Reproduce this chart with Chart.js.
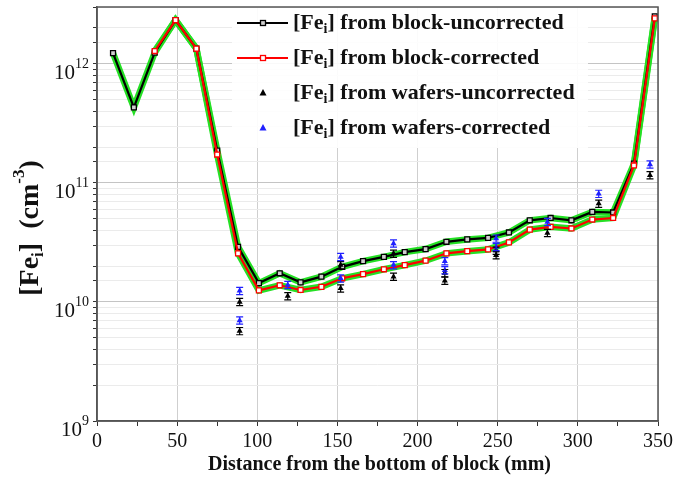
<!DOCTYPE html>
<html>
<head>
<meta charset="utf-8">
<script src="https://cdn.jsdelivr.net/npm/chart.js@4.4.0/dist/chart.umd.min.js"></script>
<style>
html, body { margin: 0; padding: 0; background: #fff; }
</style>
</head>
<body>
<canvas id="feChart" width="684" height="477"></canvas>
<script>
// positions along the block (mm)
const blockX = [10, 23, 36, 49, 62, 75, 88, 101, 114, 127, 140, 153, 166, 179, 192, 205, 218, 231, 244, 257, 270, 283, 296, 309, 322, 335, 348];
const blockUncorr = [1.23e12, 4.3e11, 1.24e12, 2.33e12, 1.34e12, 1.87e11, 2.9e10, 1.44e10, 1.74e10, 1.46e10, 1.63e10, 1.97e10, 2.2e10, 2.39e10, 2.62e10, 2.78e10, 3.2e10, 3.35e10, 3.45e10, 3.83e10, 4.85e10, 5.07e10, 4.85e10, 5.7e10, 5.64e10, 1.45e11, 2.5e12];
const blockCorr = [null, null, 1.28e12, 2.33e12, 1.34e12, 1.73e11, 2.56e10, 1.25e10, 1.38e10, 1.26e10, 1.34e10, 1.58e10, 1.71e10, 1.88e10, 2.04e10, 2.22e10, 2.56e10, 2.67e10, 2.76e10, 3.16e10, 4.05e10, 4.27e10, 4.14e10, 4.92e10, 5.07e10, 1.4e11, 2.41e12];

// wafer measurements
const waferX = [89, 89, 119, 152, 152, 185, 185, 217, 217, 249, 249, 281, 313, 345];
const waferUncorr = [1.0e10, 5.7e9, 1.12e10, 2.04e10, 1.30e10, 2.55e10, 1.63e10, 1.75e10, 1.51e10, 2.7e10, 2.47e10, 3.8e10, 6.7e10, 1.16e11];
const waferCorr = [1.24e10, 7.0e9, 1.39e10, 2.39e10, 1.58e10, 3.1e10, 2.04e10, 2.2e10, 1.85e10, 3.41e10, 2.9e10, 4.7e10, 8.1e10, 1.43e11];
const waferErrU = [0.07, 0.07, 0.07, 0.07, 0.07, 0.07, 0.07, 0.07, 0.07, 0.07, 0.07, 0.07, 0.07, 0.07];
const waferErrC = [0.07, 0.07, 0.07, 0.07, 0.07, 0.07, 0.07, 0.07, 0.07, 0.07, 0.07, 0.07, 0.07, 0.07];

const xTicks = [0, 50, 100, 150, 200, 250, 300, 350];
const yDecades = [9, 10, 11, 12];
const legendLabels = [
    [['[Fe'], ['i', 'sub'], ['] from block-uncorrected']],
    [['[Fe'], ['i', 'sub'], ['] from block-corrected']],
    [['[Fe'], ['i', 'sub'], ['] from wafers-uncorrected']],
    [['[Fe'], ['i', 'sub'], ['] from wafers-corrected']]
];

const SERIF = '"Liberation Serif", "Times New Roman", serif';
const GREEN = '#25e025';
const BLUE = '#2020ff';

function toPoints(xs, ys) {
    const pts = [];
    xs.forEach((x, i) => {
        if (ys[i] !== null) pts.push({ x: x, y: ys[i] });
    });
    return pts;
}

// draws text with sub/superscript pieces, returns width
function richText(ctx, parts, x, y, size, bold, measureOnly) {
    let cx = x;
    parts.forEach(p => {
        const kind = p[1];
        const fs = kind ? Math.round(size * 0.62) : size;
        ctx.font = (bold ? 'bold ' : '') + fs + 'px ' + SERIF;
        let dy = 0;
        if (kind === 'sub') dy = size * 0.28;
        if (kind === 'sup') dy = -size * 0.4;
        if (!measureOnly) ctx.fillText(p[0], cx, y + dy);
        cx += ctx.measureText(p[0]).width;
    });
    return cx - x;
}

const errorBars = {
    id: 'errorBars',
    afterDatasetsDraw(chart) {
        const ctx = chart.ctx;
        const ys = chart.scales.y;
        chart.data.datasets.forEach((ds, di) => {
            if (!ds.errs) return;
            const meta = chart.getDatasetMeta(di);
            ctx.save();
            ctx.strokeStyle = ds.borderColor;
            ctx.lineWidth = 1.2;
            meta.data.forEach((el, i) => {
                const v = ds.data[i].y;
                const top = ys.getPixelForValue(v * (1 + ds.errs[i]));
                const bot = ys.getPixelForValue(v * (1 - ds.errs[i]));
                ctx.beginPath();
                ctx.moveTo(el.x, top); ctx.lineTo(el.x, bot);
                ctx.moveTo(el.x - 3.5, top); ctx.lineTo(el.x + 3.5, top);
                ctx.moveTo(el.x - 3.5, bot); ctx.lineTo(el.x + 3.5, bot);
                ctx.stroke();
            });
            ctx.restore();
        });
    }
};

const decorations = {
    id: 'decorations',
    afterDraw(chart) {
        const ctx = chart.ctx;
        const a = chart.chartArea;
        const ys = chart.scales.y;
        ctx.save();

        // frame
        ctx.strokeStyle = '#555';
        ctx.lineWidth = 1.5;
        ctx.strokeRect(a.left, a.top, a.right - a.left, a.bottom - a.top);

        // y tick labels 10^n
        ctx.fillStyle = '#111';
        ctx.textBaseline = 'alphabetic';
        yDecades.forEach(e => {
            const py = ys.getPixelForValue(Math.pow(10, e));
            ctx.font = '14px ' + SERIF;
            const sw = ctx.measureText(String(e)).width;
            const right = 89;
            ctx.textAlign = 'left';
            ctx.fillText(String(e), right - sw, py + 4);
            ctx.font = '21px ' + SERIF;
            ctx.textAlign = 'right';
            ctx.fillText('10', right - sw, py + 15);
        });

        // y title
        ctx.save();
        ctx.translate(31, 228);
        ctx.rotate(-Math.PI / 2);
        ctx.textAlign = 'left';
        ctx.textBaseline = 'middle';
        const yTitle = [['[Fe'], ['i', 'sub'], [']  (cm'], ['-3', 'sup'], [')']];
        const tw = richText(ctx, yTitle, 0, 0, 28, true, true);
        richText(ctx, yTitle, -tw / 2, 0, 28, true, false);
        ctx.restore();

        // x title
        ctx.textAlign = 'center';
        ctx.textBaseline = 'middle';
        ctx.font = 'bold 20px ' + SERIF;
        ctx.fillText('Distance from the bottom of block (mm)', (a.left + a.right) / 2 + 2, 465);

        // legend
        ctx.fillStyle = 'rgba(255,255,255,0.9)';
        ctx.fillRect(232, a.top + 1, 356, 140);
        const rows = [23, 58, 93, 128];
        const lx0 = 237, lx1 = 288, mx = 263;
        rows.forEach((ry, i) => {
            ctx.lineWidth = 2.2;
            if (i === 0 || i === 1) {
                ctx.strokeStyle = i === 0 ? '#000' : '#ff0000';
                ctx.beginPath();
                ctx.moveTo(lx0, ry); ctx.lineTo(lx1, ry);
                ctx.stroke();
                ctx.fillStyle = i === 0 ? '#cfcfcf' : '#fff';
                ctx.lineWidth = 1.3;
                ctx.fillRect(mx - 2.5, ry - 2.5, 5, 5);
                ctx.strokeRect(mx - 2.5, ry - 2.5, 5, 5);
            } else {
                ctx.fillStyle = i === 2 ? '#000' : BLUE;
                ctx.beginPath();
                ctx.moveTo(mx, ry - 4); ctx.lineTo(mx + 3.5, ry + 2.5); ctx.lineTo(mx - 3.5, ry + 2.5);
                ctx.closePath();
                ctx.fill();
            }
            ctx.fillStyle = '#111';
            ctx.textAlign = 'left';
            ctx.textBaseline = 'middle';
            richText(ctx, legendLabels[i], 293, ry, 22, true, false);
        });
        ctx.restore();
    }
};

const ctx = document.getElementById('feChart').getContext('2d');
new Chart(ctx, {
    type: 'scatter',
    data: {
        datasets: [{
            data: toPoints(blockX, blockUncorr),
            showLine: true,
            borderColor: GREEN,
            borderWidth: 6.5,
            pointRadius: 0,
            order: 5
        }, {
            data: toPoints(blockX, blockCorr),
            showLine: true,
            borderColor: GREEN,
            borderWidth: 6.5,
            pointRadius: 0,
            order: 5
        }, {
            label: 'block-uncorrected',
            data: toPoints(blockX, blockUncorr),
            showLine: true,
            borderColor: '#000',
            borderWidth: 2.2,
            pointStyle: 'rect',
            pointRadius: 3.5,
            pointBorderWidth: 1.3,
            pointBorderColor: '#000',
            pointBackgroundColor: '#cfcfcf',
            order: 3
        }, {
            label: 'block-corrected',
            data: toPoints(blockX, blockCorr),
            showLine: true,
            borderColor: '#ff0000',
            borderWidth: 2.2,
            pointStyle: 'rect',
            pointRadius: 3.5,
            pointBorderWidth: 1.3,
            pointBorderColor: '#ff0000',
            pointBackgroundColor: '#fff',
            order: 2
        }, {
            label: 'wafers-uncorrected',
            data: toPoints(waferX, waferUncorr),
            errs: waferErrU,
            borderColor: '#000',
            backgroundColor: '#000',
            pointStyle: 'triangle',
            pointRadius: 3.5,
            pointBorderWidth: 0,
            order: 1
        }, {
            label: 'wafers-corrected',
            data: toPoints(waferX, waferCorr),
            errs: waferErrC,
            borderColor: BLUE,
            backgroundColor: BLUE,
            pointStyle: 'triangle',
            pointRadius: 3.5,
            pointBorderWidth: 0,
            order: 0
        }]
    },
    options: {
        responsive: false,
        animation: false,
        devicePixelRatio: 1,
        events: [],
        layout: { padding: { top: 7, right: 26, left: 0, bottom: 0 } },
        plugins: {
            legend: { display: false },
            tooltip: { enabled: false }
        },
        scales: {
            x: {
                type: 'linear',
                min: 0,
                max: 350,
                afterBuildTicks: scale => {
                    scale.ticks = [];
                    for (let v = 0; v <= 350; v += 25) scale.ticks.push({ value: v });
                },
                ticks: {
                    autoSkip: false,
                    maxRotation: 0,
                    padding: 4,
                    color: '#111',
                    font: { family: SERIF, size: 20 },
                    callback: v => xTicks.includes(v) ? String(v) : ''
                },
                grid: {
                    color: c => (c.tick && c.tick.value % 50 === 0) ? '#cfcfcf' : 'rgba(0,0,0,0)',
                    tickColor: '#333',
                    tickLength: 5
                },
                border: { color: '#555', width: 1.5 },
                afterFit: scale => { scale.height = 56; }
            },
            y: {
                type: 'logarithmic',
                min: 1e9,
                max: 3e12,
                ticks: { display: false, autoSkip: false },
                grid: {
                    color: c => {
                        const lg = Math.log10(c.tick.value);
                        return Math.abs(lg - Math.round(lg)) < 1e-6 ? '#c4c4c4' : '#ebebeb';
                    },
                    tickColor: '#333',
                    tickLength: 4
                },
                border: { color: '#555', width: 1.5 },
                afterFit: scale => { scale.width = 97; }
            }
        }
    },
    plugins: [errorBars, decorations]
});
</script>
</body>
</html>
